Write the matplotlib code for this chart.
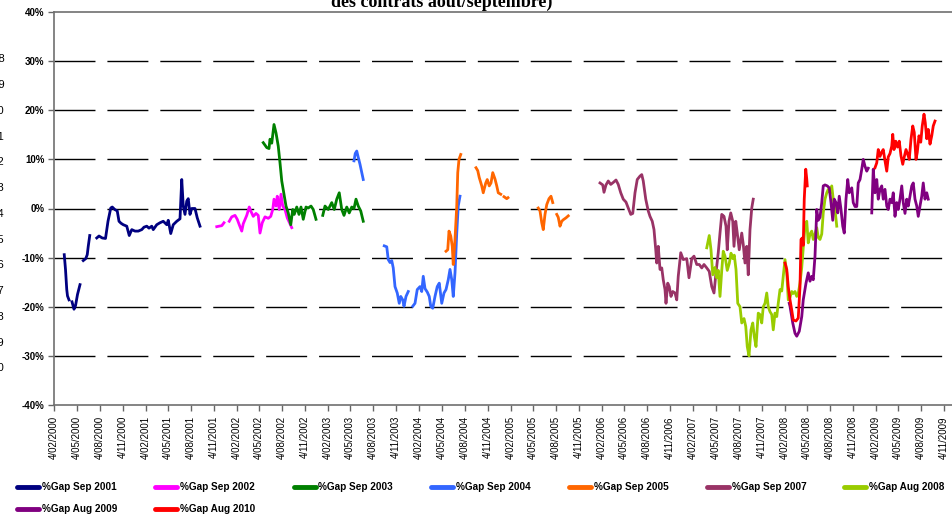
import numpy as np
import pandas as pd
import matplotlib
matplotlib.use('Agg')
import matplotlib.pyplot as plt

plt.rcParams['font.family'] = ['Liberation Sans', 'DejaVu Sans']

NA = np.nan
START = pd.Timestamp('2000-02-04')   # first axis date; series dates are days after it

# %Gap series (in %), x given as days after START, NA = break in the line
sep01_days = [41, 46, 51, 54, 60, 66, 72, 80, 86, 94, 104, 110, 117, 127, 133, 137, 143, 157,
              171, 180, 193, 206, 216, 227, 233, 243, 253, 260, 268, 277, 291, 301, 311, 324,
              337, 351, 360, 371, 380, 391, 397, 411, 424, 437, 451, 457, 467, 477, 491, 504,
              511, 517, 524, 531, 537, 544, 551, 564, 573, 584]
sep01_vals = [-9.4, -12.4, -16.5, -17.8, -18.6, NA, -19.0, -20.5, -19.8, -17.5, -15.5, NA,
              -10.6, -10.2, -9.4, -7.7, -5.5, NA, -6.0, -5.6, -6.0, -6.1, -2.6, 0.1, 0.3, -0.2,
              -0.5, -2.6, -3.0, -3.3, -3.6, -5.5, -4.3, -4.6, -4.6, -4.3, -3.8, -3.6, -4.0, -3.6,
              -4.3, -3.3, -2.9, -2.6, -3.3, -2.4, -5.1, -3.3, -2.6, -2.1, 5.9, 0.5, -1.2, 1.5,
              2.0, -1.2, 0.0, 0.0, -1.9, -3.6]

sep02_days = [651, 660, 671, 680, 690, 701, 711, 724, 733, 741, 751, 757, 771, 781, 787, 797,
              808, 817, 824, 833, 844, 857, 867, 875, 880, 888, 893, 901, 908, 915, 924, 933, 951]
sep02_vals = [-3.7, -3.6, -3.5, -2.9, NA, -2.6, -1.7, -1.4, -2.2, -3.3, -4.6, -3.1, -1.4, 0.3,
              -0.5, -1.6, -1.0, -1.4, -5.0, -2.9, -1.7, -2.0, -1.6, -0.2, 1.9, 0.5, 2.5, -0.2,
              2.9, 0.5, -0.2, -1.9, -3.9]

sep03_days = [837, 851, 860, 864, 871, 880, 888, 897, 904, 911, 920, 928, 937, 947, 955, 961,
              971, 980, 988, 997, 1008, 1017, 1028, 1037, 1048, 1062, 1075, 1084, 1097, 1111,
              1121, 1131, 1141, 1151, 1160, 1171, 1181, 1191, 1200, 1208, 1217, 1227, 1237]
sep03_vals = [13.4, 12.4, 12.2, 14.1, 13.3, 17.1, 15.4, 12.7, 9.3, 5.6, 2.9, 0.5, -0.9, -3.3,
              -0.2, -1.2, 0.3, -1.2, 0.3, -2.2, 0.3, 0.1, 0.5, -0.2, -2.2, NA, -1.4, 0.5, -0.2,
              1.2, -0.2, 1.9, 3.2, -0.2, -1.4, 0.3, -0.9, 0.3, 0.0, 1.9, 0.5, -0.5, -2.6]

sep04_days = [1200, 1205, 1211, 1217, 1224, 1237, 1280, 1321, 1331, 1337, 1344, 1351, 1357,
              1364, 1373, 1381, 1387, 1395, 1400, 1408, 1417, 1426, 1435, 1444, 1453, 1464,
              1471, 1477, 1484, 1493, 1501, 1507, 1515, 1524, 1533, 1541, 1551, 1560, 1568,
              1577, 1584, 1591, 1597, 1604, 1611, 1617, 1624]
sep04_vals = [9.7, 11.2, 11.7, 10.4, 9.0, 5.9, NA, -7.6, -7.8, -10.4, -11.0, -10.6, -12.1,
              -15.9, -17.2, -19.3, -17.9, -18.6, -19.9, -17.9, -16.9, NA, -19.9, -19.3, -16.5,
              -15.9, -16.9, -13.8, -16.3, -17.0, -17.9, -19.9, -20.3, -17.9, -15.9, -15.2,
              -19.3, -17.2, -16.5, -14.5, -12.4, -14.5, -17.9, -13.1, -5.0, 0.5, 2.5]

sep05_days = [1568, 1575, 1580, 1587, 1593, 1597, 1604, 1611, 1615, 1620, 1627, 1660, 1688,
              1695, 1701, 1711, 1717, 1727, 1733, 1741, 1748, 1755, 1764, 1771, 1777, 1787,
              1794, 1800, 1811, 1816, 1880, 1937, 1944, 1951, 1957, 1964, 1971, 1980, 1988,
              1995, 2003, 2011, 2017, 2024, 2031, 2037, 2048, 2057]
sep05_vals = [-8.7, -8.4, -4.6, -5.6, -7.7, -11.4, -6.3, 0.5, 7.3, 10.0, 11.0, NA, 8.3, 7.7,
              6.3, 4.6, 3.2, 5.2, 5.9, 4.6, 5.2, 7.3, 6.0, 4.6, 3.2, 2.9, NA, 2.4, 2.0, 2.2, NA,
              0.1, -0.5, -2.9, -4.3, -1.2, 0.8, 2.0, 2.5, 1.2, NA, -1.2, -1.8, -3.6, -2.6, -2.3,
              -1.9, -1.5]

sep07_days = [2184, 2195, 2200, 2208, 2217, 2227, 2237, 2248, 2257, 2267, 2277, 2288, 2297,
              2307, 2315, 2324, 2333, 2344, 2351, 2357, 2367, 2377, 2384, 2393, 2400, 2407,
              2411, 2417, 2424, 2431, 2437, 2444, 2448, 2455, 2461, 2468, 2475, 2484, 2491,
              2497, 2507, 2517, 2531, 2540, 2551, 2560, 2571, 2581, 2591, 2600, 2611, 2621,
              2631, 2640, 2648, 2657, 2664, 2671, 2680, 2688, 2693, 2700, 2707, 2715, 2720,
              2727, 2733, 2741, 2751, 2757, 2764, 2771, 2777, 2784, 2791, 2797]
sep07_vals = [5.2, 4.8, 3.3, 4.8, 5.6, 4.9, 5.3, 5.8, 4.9, 3.2, 1.9, 1.3, 0.1, -1.2, -1.0, 3.2,
              5.9, 6.6, 6.9, 5.6, 1.9, -0.5, -1.6, -2.6, -4.3, -8.4, -11.1, -7.7, -12.4, -12.1,
              -14.5, -16.5, -19.3, -15.2, -15.9, -17.9, -16.9, -17.2, -18.6, -13.8, -9.0,
              -10.4, -10.2, -14.1, -10.2, -9.7, -11.4, -11.4, -12.1, -11.4, -12.1, -12.8,
              -15.9, -17.2, -13.1, -9.0, -5.0, -1.2, -1.6, -3.6, -8.4, -2.6, -0.9, -2.6, -7.7,
              -2.6, -5.0, -8.4, -5.0, -7.3, -11.1, -7.7, -13.5, -4.3, 0.1, 1.9]

aug08_days = [2611, 2621, 2628, 2635, 2644, 2651, 2657, 2664, 2671, 2677, 2684, 2693, 2701,
              2708, 2715, 2721, 2728, 2735, 2744, 2751, 2760, 2767, 2773, 2780, 2788, 2795,
              2801, 2808, 2817, 2824, 2831, 2837, 2844, 2851, 2857, 2864, 2871, 2877, 2884,
              2891, 2897, 2904, 2911, 2917, 2924, 2931, 2937, 2944, 2951, 2957, 2964, 2971,
              2977, 2984, 2991, 2997, 3004, 3011, 3017, 3024, 3031, 3037, 3044, 3051, 3057,
              3064, 3071, 3077, 3084, 3091, 3097, 3104, 3111, 3117, 3124, 3131]
aug08_vals = [-8.0, -5.5, -8.4, -13.5, -12.0, -14.1, -12.6, -17.9, -12.6, -8.7, -9.7, -12.6,
              -11.2, -9.1, -10.2, -9.5, -12.4, -19.3, -20.0, -23.3, -22.4, -24.0, -28.1, -30.0,
              -24.7, -23.3, -26.0, -28.1, -21.3, -21.6, -23.3, -20.0, -19.3, -17.2, -20.0,
              -21.0, -21.6, -24.7, -21.3, -22.0, -19.3, -16.5, -16.8, -13.8, -10.4, -13.0,
              -18.6, -18.1, -16.9, -17.3, -16.9, -17.9, -17.3, -15.2, -12.0, -8.0, -3.6, -2.6,
              -7.0, -5.2, -4.6, -6.3, -5.2, -3.9, -5.9, -6.3, -5.2, -0.9, 1.9, 3.2, 3.9, 3.2,
              4.6, 1.9, -0.2, -3.6]

aug09_days = [2941, 2944, 2955, 2964, 2971, 2981, 2991, 2997, 3008, 3017, 3024, 3031, 3037,
              3044, 3051, 3057, 3064, 3071, 3077, 3084, 3093, 3101, 3108, 3115, 3121, 3128,
              3135, 3141, 3148, 3155, 3161, 3168, 3175, 3181, 3191, 3197, 3204, 3211, 3217,
              3224, 3231, 3237, 3244, 3251, 3257, 3264, 3271, 3277, 3284, 3291, 3297, 3304,
              3311, 3317, 3324, 3331, 3337, 3344, 3351, 3357, 3364, 3371, 3377, 3384, 3391,
              3397, 3404, 3411, 3417, 3424, 3431, 3437, 3444, 3451, 3457, 3464, 3471, 3477,
              3484, 3491, 3497]
aug09_vals = [-19.3, -19.9, -23.3, -25.4, -26.0, -25.0, -22.0, -18.6, -15.2, -13.1, -14.8,
              -13.8, -14.5, -9.7, -0.2, -2.4, -1.8, 1.2, 4.6, 4.8, 4.6, 4.2, 1.2, -2.4, 1.9,
              1.2, -0.9, 2.5, -0.2, -3.6, -5.0, 1.9, 5.9, 3.2, 4.2, 1.2, 0.4, 0.4, 5.2, 5.9,
              8.0, 10.0, 8.6, 7.6, 8.2, NA, -0.9, 8.0, 3.2, 5.9, 1.9, 3.9, 4.6, 1.9, 3.9, 0.5,
              -0.2, 1.9, 1.2, 3.2, -1.6, 1.2, -0.2, 1.9, 4.6, 1.2, -1.0, 1.9, 0.5, 2.5, 4.6,
              5.2, 1.9, 0.5, -1.6, 0.5, 2.5, 5.2, 1.9, 3.2, 1.9]

aug10_days = [2924, 2931, 2937, 2944, 2951, 2957, 2968, 2977, 2984, 2988, 2993, 2997, 3001,
              3007, 3011, 3013, 3150, 3284, 3291, 3297, 3304, 3311, 3317, 3324, 3331, 3337,
              3344, 3351, 3355, 3360, 3367, 3374, 3381, 3388, 3395, 3401, 3408, 3415, 3421,
              3428, 3435, 3441, 3448, 3453, 3460, 3467, 3473, 3480, 3485, 3491, 3497, 3504,
              3511, 3517, 3524]
aug10_vals = [-11.1, -12.4, -15.9, -18.6, -20.7, -22.7, -22.9, -22.3, -15.9, -6.3, -6.0, -7.5,
              1.9, 8.0, 6.0, 4.6, NA, 8.3, 9.3, 12.0, 10.6, 11.5, 12.0, 9.7, 7.6, 10.5, 11.2,
              12.7, 15.1, 12.0, 13.7, 12.5, 13.7, 10.7, 9.0, 10.5, 12.0, 11.0, 10.0, 14.1,
              16.8, 15.5, 10.0, 11.4, 14.8, 13.5, 16.8, 19.2, 17.5, 14.2, 16.1, 13.1, 14.8,
              16.8, 17.8]

series = [
    ('%Gap Sep 2001', sep01_days, sep01_vals, '#000080'),
    ('%Gap Sep 2002', sep02_days, sep02_vals, '#FF00FF'),
    ('%Gap Sep 2003', sep03_days, sep03_vals, '#008000'),
    ('%Gap Sep 2004', sep04_days, sep04_vals, '#3366FF'),
    ('%Gap Sep 2005', sep05_days, sep05_vals, '#FF6600'),
    ('%Gap Sep 2007', sep07_days, sep07_vals, '#993366'),
    ('%Gap Aug 2008', aug08_days, aug08_vals, '#99CC00'),
    ('%Gap Aug 2009', aug09_days, aug09_vals, '#800080'),
    ('%Gap Aug 2010', aug10_days, aug10_vals, '#FF0000'),
]

# years of a neighbouring table, cut off at the left edge of the picture
side_years = [str(y) for y in range(1998, 2011)]

fig = plt.figure(figsize=(9.52, 5.14), dpi=100)
ax = fig.add_axes([54 / 952, 109 / 514, 908 / 952, 393 / 514])

handles = []
for name, days, vals, color in series:
    dates = START + pd.to_timedelta(days, unit='D')
    ln, = ax.plot(dates, vals, color=color, lw=2.0, label=name,
                  solid_joinstyle='round', zorder=3)
    handles.append(ln)

ax.set_xlim(START, START + pd.Timedelta(days=3632))
ax.set_ylim(-40, 40)

yt = list(range(-40, 41, 10))
ax.set_yticks(yt)
ax.set_yticklabels([f'{t}%' for t in yt], fontsize=7, fontweight='bold')

xt = [START + pd.DateOffset(months=3 * i) for i in range(40)]
ax.set_xticks(xt)
ax.set_xticklabels([f'{d.day}/{d.month:02d}/{d.year}' for d in xt], rotation=90, fontsize=7)
ax.tick_params(direction='out', length=4, width=1, color='#666666', pad=3)
ax.tick_params(axis='x', pad=4)

for y in range(-30, 31, 10):
    ax.axhline(y, color='black', lw=1.0, dashes=(29.5, 8.6), zorder=1)

for side in ['left', 'top', 'bottom']:
    ax.spines[side].set_color('#707070')
    ax.spines[side].set_linewidth(1.2)
ax.spines['right'].set_visible(False)

fig.text(442 / 952, 1 - 7 / 514, 'des contrats août/septembre)', ha='center', va='baseline',
         fontsize=13, fontweight='bold', family=['Liberation Serif', 'DejaVu Serif'])

for i, yr in enumerate(side_years):
    fig.text(4.5 / 952, 1 - (59.3 + i * 25.75) / 514, yr, ha='right', va='center', fontsize=8)

# legend in Excel row order: 7 on the first row, 2 on the second
order = [0, 7, 1, 8, 2, 3, 4, 5, 6]
leg = fig.legend([handles[i] for i in order], [series[i][0] for i in order],
                 loc='upper left', bbox_to_anchor=(17 / 952, 1 - 482 / 514), ncol=7,
                 frameon=False, prop={'size': 7.2, 'weight': 'bold'},
                 handlelength=2.2, handletextpad=0.3, columnspacing=3.8,
                 labelspacing=1.2, borderpad=0, borderaxespad=0)
for h in leg.legend_handles:
    h.set_linewidth(3.5)
    h.set_solid_capstyle('round')

fig.savefig('out.png', dpi=100)
